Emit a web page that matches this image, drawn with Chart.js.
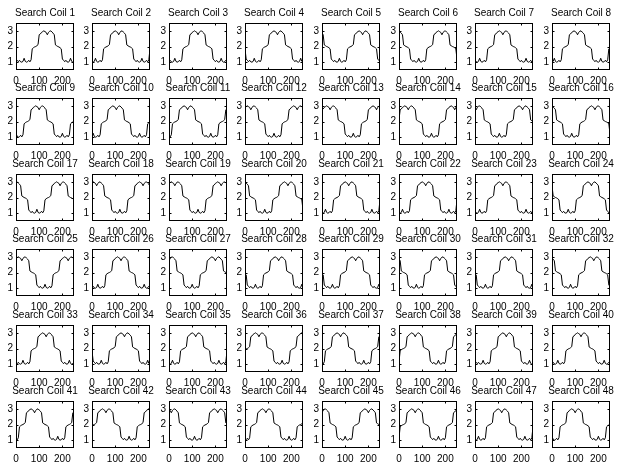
<!DOCTYPE html>
<html>
<head>
<meta charset="utf-8">
<title>Search Coils</title>
<script src="https://cdn.jsdelivr.net/npm/chart.js@4.4.0/dist/chart.umd.min.js"></script>
<style>
  html, body { margin: 0; padding: 0; background: #fff; }
  #grid { position: relative; width: 621px; height: 463px; overflow: hidden; background: #fff; }
  #grid canvas { position: absolute; }
</style>
</head>
<body>
<div id="grid"></div>
<script>
// Axis ticks / ranges
const xTicks = [0, 100, 200];
const yTicks = [1, 2, 3];
const xMax = 250;
const yMin = 0.5;
const yMax = 3.5;

// One period of the coil waveform, sampled every 5 x-units,
// starting where the top plateau begins (the notch sits at index 6)
const waveStep = 5;
const notchIndex = 6;
const waveShape = [
  2.80, 2.90, 2.95, 3.00, 2.95, 2.90, 2.75, 2.90, 2.97, 3.00,
  2.92, 2.85, 2.75, 2.10, 2.05, 2.00, 1.97, 1.92, 1.85, 1.20,
  1.12, 1.03, 1.12, 1.02, 1.00, 1.05, 1.25, 1.05, 1.00, 1.03,
  1.12, 1.02, 1.15, 1.85, 1.92, 1.97, 2.00, 2.05, 2.12, 2.75
];

// x position of the notch in the top plateau, coil 1..48
const notchX = [
  135, 115, 125, 140, 175, 185, 120, 110,
  100, 105,  80,  25,  35,  40, 205, 185,
  190,  20,  25, 185, 115, 115, 120, 170,
   25, 125, 200, 145, 145, 175, 145, 180,
  130, 140, 115,  60,  80,  70, 135, 125,
   80,  60, 210,  90, 200,  70, 115, 100
];

// Panel layout
const COLS = 8, ROWS = 6;
const BOX_W = 58, BOX_H = 47;
const LEFT0 = 15.7, COL_PITCH = 76.6;
const TOP0 = 22.5, ROW_PITCH = 75.6;
const Y_AXIS_W = 16, TITLE_H = 23, X_AXIS_H = 17, RIGHT_PAD = 8;
const FONT = { family: '"Liberation Sans", Arial, Helvetica, sans-serif', size: 10, weight: 'normal', lineHeight: 1.2 };

// Build the samples for one coil from the shared waveform
function coilSeries(k) {
  const period = waveShape.length;
  const pts = [];
  for (let x = 0; x <= xMax; x += waveStep) {
    let idx = Math.round((x - notchX[k]) / waveStep) + notchIndex;
    idx = ((idx % period) + period) % period;
    pts.push({ x: x, y: waveShape[idx] });
  }
  return pts;
}

// MATLAB style closed box with small inward ticks, title centred on the box
const boxPlugin = {
  id: 'matlabBox',
  afterDraw(chart) {
    const { ctx, chartArea: a, scales } = chart;
    const L = Math.round(a.left) + 0.5, R = Math.round(a.right) - 0.5;
    const T = Math.round(a.top) + 0.5, B = Math.round(a.bottom) - 0.5;
    ctx.save();
    ctx.strokeStyle = '#000';
    ctx.lineWidth = 1;
    ctx.strokeRect(L, T, R - L, B - T);
    ctx.beginPath();
    xTicks.forEach(v => {
      const px = Math.round(scales.x.getPixelForValue(v)) + 0.5;
      ctx.moveTo(px, B); ctx.lineTo(px, B - 2);
      ctx.moveTo(px, T); ctx.lineTo(px, T + 2);
    });
    yTicks.forEach(v => {
      const py = Math.round(scales.y.getPixelForValue(v)) + 0.5;
      ctx.moveTo(L, py); ctx.lineTo(L + 2, py);
      ctx.moveTo(R, py); ctx.lineTo(R - 2, py);
    });
    ctx.stroke();

    ctx.fillStyle = '#000';
    ctx.font = FONT.size + 'px ' + FONT.family;
    ctx.textAlign = 'center';
    ctx.textBaseline = 'middle';
    ctx.fillText(chart.options.coilTitle, (a.left + a.right) / 2, a.top - 10);
    ctx.restore();
  }
};

function makePanel(k) {
  const col = k % COLS, row = Math.floor(k / COLS);
  const boxLeft = Math.round(LEFT0 + COL_PITCH * col);
  const boxTop = Math.round(TOP0 + ROW_PITCH * row);

  const canvas = document.createElement('canvas');
  canvas.width = Y_AXIS_W + BOX_W + RIGHT_PAD;
  canvas.height = TITLE_H + BOX_H + X_AXIS_H;
  canvas.style.left = (boxLeft - Y_AXIS_W) + 'px';
  canvas.style.top = (boxTop - TITLE_H) + 'px';
  document.getElementById('grid').appendChild(canvas);

  new Chart(canvas, {
    type: 'line',
    data: {
      datasets: [{
        data: coilSeries(k),
        borderColor: '#000',
        borderWidth: 1,
        pointRadius: 0,
        tension: 0,
        fill: false
      }]
    },
    options: {
      coilTitle: 'Search Coil ' + (k + 1),
      responsive: false,
      animation: false,
      devicePixelRatio: 1,
      layout: { padding: { left: 0, right: RIGHT_PAD, top: TITLE_H, bottom: 0 } },
      plugins: {
        legend: { display: false },
        tooltip: { enabled: false },
        title: { display: false }
      },
      scales: {
        x: {
          type: 'linear',
          min: 0,
          max: xMax,
          afterBuildTicks: s => { s.ticks = xTicks.map(v => ({ value: v })); },
          afterFit: s => { s.height = X_AXIS_H; },
          grid: { display: false, drawTicks: false },
          border: { display: false },
          ticks: { color: '#000', font: FONT, padding: 5, maxRotation: 0, autoSkip: false }
        },
        y: {
          type: 'linear',
          min: yMin,
          max: yMax,
          afterBuildTicks: s => { s.ticks = yTicks.map(v => ({ value: v })); },
          afterFit: s => { s.width = Y_AXIS_W; },
          grid: { display: false, drawTicks: false },
          border: { display: false },
          ticks: { color: '#000', font: FONT, padding: 3, autoSkip: false }
        }
      }
    },
    plugins: [boxPlugin]
  });
}

for (let k = 0; k < COLS * ROWS; k++) {
  makePanel(k);
}
</script>
</body>
</html>
